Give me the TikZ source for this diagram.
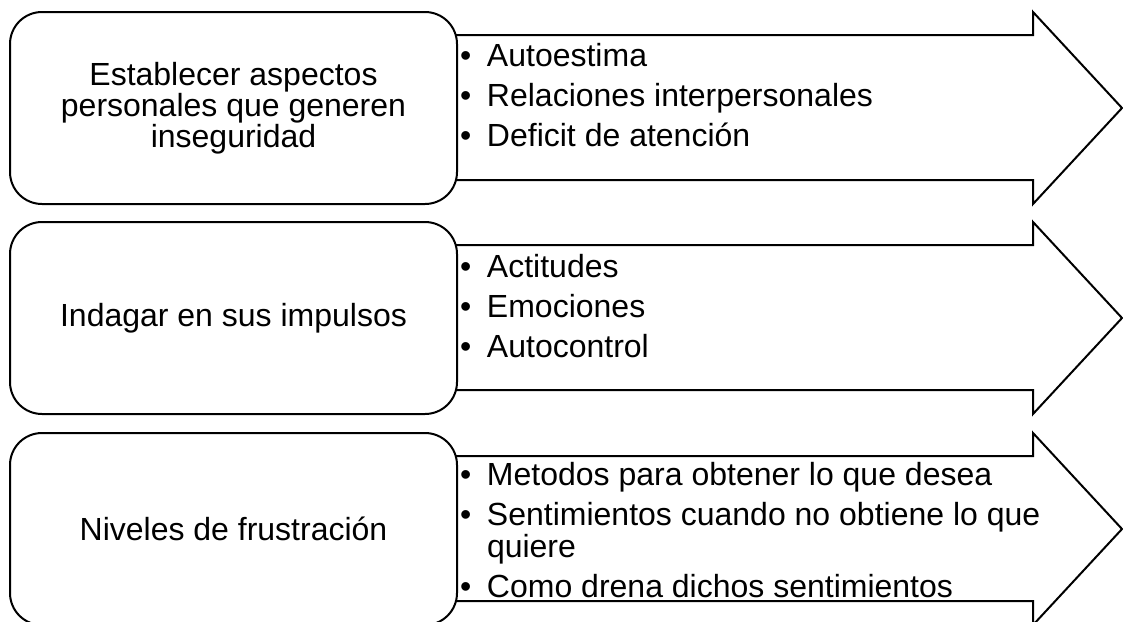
\documentclass[tikz,border=0pt]{standalone}
\usepackage{fontspec}
\setmainfont{Liberation Sans}
\newcommand{\lbul}{\makebox[27pt][l]{•}}
\begin{document}
\begin{tikzpicture}[x=1pt,y=-1pt, line width=2pt,
  box/.style={draw, fill=white, rounded corners=32pt, minimum width=447pt, minimum height=192pt, inner sep=0pt, align=center, font=\fontsize{32}{31}\selectfont},
  arrowshape/.style={draw, fill=white, line join=miter},
  listtext/.style={anchor=base west, inner sep=0pt, font=\fontsize{32}{30}\selectfont}]
\useasboundingbox (0,0) rectangle (1123,621);
% row 1
\draw[arrowshape] (440,35) -- (1033,35) -- (1033,12) -- (1122,108) -- (1033,204) -- (1033,180) -- (440,180) -- cycle;
\node[box] (b1) at (233.5,108) {Establecer aspectos\\personales que generen\\inseguridad};
\node[listtext] (l1) at (459,66) {\begin{tabular}[t]{@{}l@{}l@{}}\lbul & Autoestima\\[8pt] \lbul & Relaciones interpersonales\\[8pt] \lbul & Deficit de atención\end{tabular}};
% row 2
\draw[arrowshape] (440,245) -- (1033,245) -- (1033,222) -- (1122,318) -- (1033,414) -- (1033,390) -- (440,390) -- cycle;
\node[box] (b2) at (233.5,318) {Indagar en sus impulsos};
\node[listtext] (l2) at (459,277) {\begin{tabular}[t]{@{}l@{}l@{}}\lbul & Actitudes\\[8pt] \lbul & Emociones\\[8pt] \lbul & Autocontrol\end{tabular}};
% row 3
\draw[arrowshape] (440,456) -- (1033,456) -- (1033,433) -- (1122,529) -- (1033,625) -- (1033,601) -- (440,601) -- cycle;
\node[box] (b3) at (233.5,529) {Niveles de frustración};
\node[listtext] (l3) at (459,485) {\begin{tabular}[t]{@{}l@{}l@{}}\lbul & Metodos para obtener lo que desea\\[8pt] \lbul & Sentimientos cuando no obtiene lo que\\ & quiere\\[8pt] \lbul & Como drena dichos sentimientos\end{tabular}};
\end{tikzpicture}
\end{document}
